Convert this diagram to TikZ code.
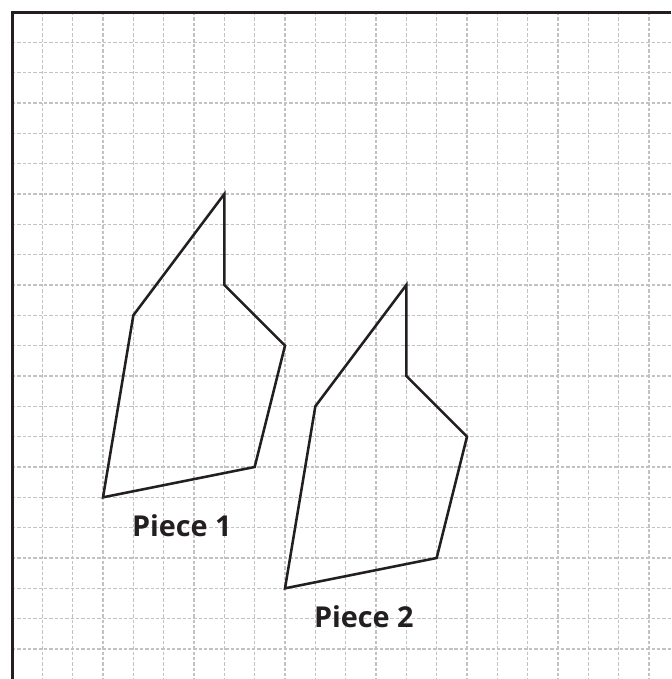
\documentclass[tikz,border=0pt]{standalone}
\usepackage{fontspec}
\setmainfont{Open Sans}
\usepackage{tikz}
\usetikzlibrary{calc}
\definecolor{gridgray}{HTML}{C2C2C2}
\definecolor{inkblack}{HTML}{231F20}
\newcommand{\edgewidth}{1.2pt}
\newcommand{\gridwidth}{0.5pt}

\begin{document}
\begin{tikzpicture}[x=0.5cm,y=0.5cm]
\useasboundingbox (-0.396,0.396) rectangle (21.73,-21.99);
% grid paper
\foreach \i in {1,...,21} {
\draw[gridgray,line width=\gridwidth,dash pattern=on 1.6pt off 0.9pt] (\i,0) -- (\i,-21.99);
\draw[gridgray,line width=\gridwidth,dash pattern=on 1.6pt off 0.9pt] (0,-\i) -- (21.73,-\i);
}
\draw[inkblack,line width=1.4pt] (0,-21.99) -- (0,0) -- (21.73,0);
% piece 1
\coordinate (1) at (7,-6);
\coordinate (2) at (7,-9);
\coordinate (3) at (9,-11);
\coordinate (4) at (8,-15);
\coordinate (5) at (3,-16);
\coordinate (6) at (4,-10);
% piece 2
\coordinate (7) at (13,-9);
\coordinate (8) at (13,-12);
\coordinate (9) at (15,-14);
\coordinate (10) at (14,-18);
\coordinate (11) at (9,-19);
\coordinate (12) at (10,-13);
\draw[inkblack,line width=\edgewidth,line join=miter] (1) -- (2) -- (3) -- (4) -- (5) -- (6) -- cycle;
\draw[inkblack,line width=\edgewidth,line join=miter] (7) -- (8) -- (9) -- (10) -- (11) -- (12) -- cycle;
\node[inkblack,font=\bfseries\fontsize{13.5}{15}\selectfont] (label1) at (5.6,-16.95) {Piece 1};
\node[inkblack,font=\bfseries\fontsize{13.5}{15}\selectfont] (label2) at (11.6,-19.95) {Piece 2};
\end{tikzpicture}
\end{document}
